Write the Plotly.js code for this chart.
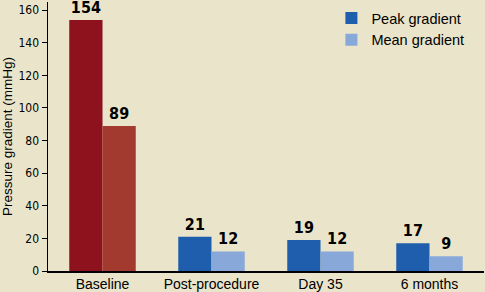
<!DOCTYPE html>
<html><head><meta charset="utf-8">
<script src="https://cdn.plot.ly/plotly-3.0.1.min.js"></script>
<style>html,body{margin:0;padding:0;background:#EAE5CA;}#c{width:485px;height:292px;}</style>
</head><body><div id="c"></div>
<script>
const categories = ["Baseline", "Post-procedure", "Day 35", "6 months"];
const peakValues = [154, 21, 19, 17];
const meanValues = [89, 12, 12, 9];
const peakColors = ["#8E111E", "#1E5EAC", "#1E5EAC", "#1E5EAC"];
const meanColors = ["#A23A2F", "#88A8DA", "#88A8DA", "#88A8DA"];
const yTicks = [0, 20, 40, 60, 80, 100, 120, 140, 160];

const labelFont = {family: "'Liberation Sans Narrow', 'DejaVu Sans Condensed', sans-serif", size: 16, color: "#000", weight: "bold"};

const traces = [
  {type: "bar", name: "Peak gradient", x: categories, y: peakValues,
   marker: {color: peakColors}, text: peakValues.map(String), textposition: "outside",
   constraintext: "none", textangle: 0,
   textfont: labelFont, cliponaxis: false, showlegend: false},
  {type: "bar", name: "Mean gradient", x: categories, y: meanValues,
   marker: {color: meanColors}, text: meanValues.map(String), textposition: "outside",
   constraintext: "none", textangle: 0,
   textfont: labelFont, cliponaxis: false, showlegend: false},
  {type: "bar", name: "Peak gradient", x: [null], y: [null], xaxis: "x2", yaxis: "y2", marker: {color: "#1E5EAC"}},
  {type: "bar", name: "Mean gradient", x: [null], y: [null], xaxis: "x2", yaxis: "y2", marker: {color: "#88A8DA"}}
];

const layout = {
  width: 485, height: 292,
  paper_bgcolor: "#EAE5CA", plot_bgcolor: "#EAE5CA",
  margin: {l: 48, r: 1, t: 2, b: 21},
  barmode: "group", bargap: 0.39, bargroupgap: 0,
  font: {family: "'Liberation Sans Narrow', 'DejaVu Sans Condensed', Arial, sans-serif", color: "#000"},
  xaxis: {type: "category", range: [-0.5, 3.5], showline: true, linecolor: "#000", linewidth: 1.5,
          ticks: "", tickfont: {family: "'Liberation Sans', Arial, sans-serif", size: 14}, showgrid: false, zeroline: false},
  yaxis: {range: [0, 165], tickvals: yTicks, ticktext: yTicks.map(String), showline: true, linecolor: "#000", linewidth: 1.5,
          ticks: "outside", ticklen: 5, tickcolor: "#000", tickfont: {size: 12}, showgrid: false, zeroline: false,
          title: {text: "Pressure gradient (mmHg)", font: {family: "'Liberation Sans', Arial, sans-serif", size: 13.5}, standoff: 6}},
  xaxis2: {overlaying: "x", visible: false, range: [0, 1]},
  yaxis2: {overlaying: "y", visible: false, range: [0, 1]},
  legend: {x: 0.65, y: 1.0, xanchor: "left", yanchor: "top", bgcolor: "rgba(0,0,0,0)",
           font: {family: "'Liberation Sans', Arial, sans-serif", size: 14.5}, itemwidth: 30, tracegroupgap: 0},
  showlegend: true
};

Plotly.newPlot("c", traces, layout, {staticPlot: true, displayModeBar: false});
</script></body></html>
